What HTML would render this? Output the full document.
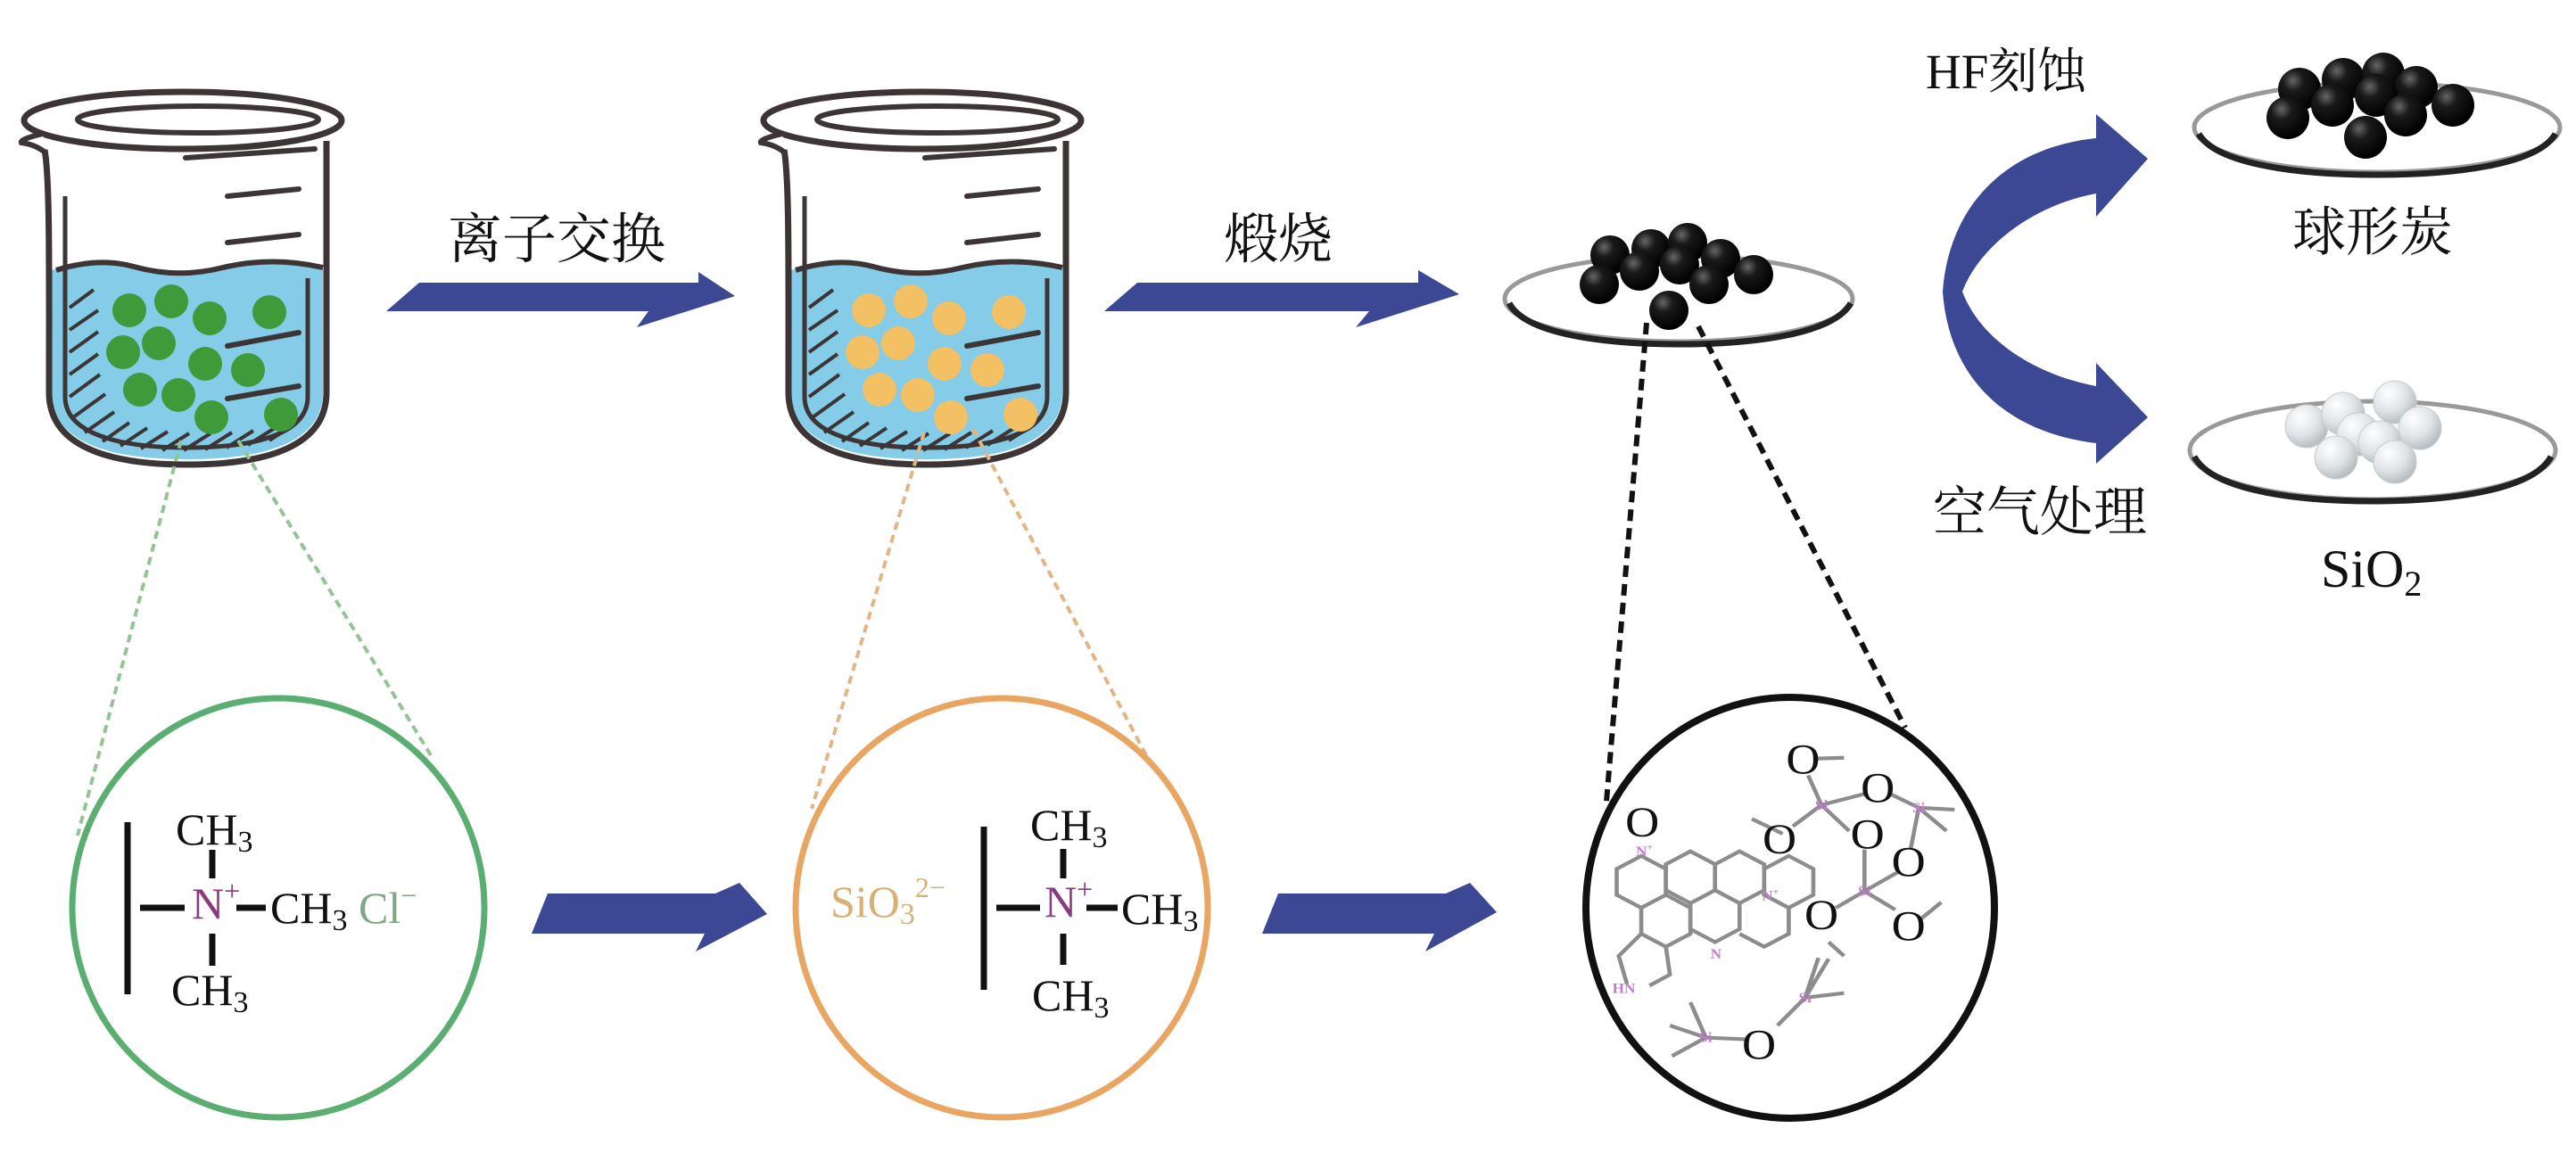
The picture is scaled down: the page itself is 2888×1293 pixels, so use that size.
<!DOCTYPE html>
<html><head><meta charset="utf-8"><style>
html,body{margin:0;padding:0;background:#fff;}
svg{display:block;}
.cn{font-family:"Liberation Serif","Noto Serif CJK SC",serif;fill:#111;}
.sf{font-family:"Liberation Serif",serif;}
</style></head><body>
<svg width="2888" height="1293" viewBox="0 0 2888 1293" xmlns="http://www.w3.org/2000/svg">
<defs>
<radialGradient id="bk" cx="0.35" cy="0.3" r="0.7"><stop offset="0" stop-color="#666"/><stop offset="0.35" stop-color="#1a1a1a"/><stop offset="1" stop-color="#000"/></radialGradient>
<radialGradient id="sv" cx="0.35" cy="0.3" r="0.7"><stop offset="0" stop-color="#ffffff"/><stop offset="0.6" stop-color="#dfe3e6"/><stop offset="1" stop-color="#b8bec2"/></radialGradient>
<clipPath id="liq"><path d="M58,303 Q110,288 150,299 Q200,313 250,300 Q305,287 362,300 L362,440 C362,495 300,515 210,515 C120,515 58,495 58,440 Z"/></clipPath>
<g id="beaker">
  <path d="M58,303 Q110,288 150,299 Q200,313 250,300 Q305,287 362,300 L362,440 C362,495 300,515 210,515 C120,515 58,495 58,440 Z" fill="#84cce8"/>
  <g clip-path="url(#liq)" stroke="#3d3535" stroke-width="4" fill="none">
    <path d="M78,345 L105,325 M78,370 L110,348 M78,395 L110,372 M78,420 L110,397 M78,445 L112,420 M82,468 L118,442 M95,485 L128,462 M115,495 L145,474 M135,500 L165,480 M158,503 L188,484 M182,505 L212,486 M206,505 L236,486 M230,504 L260,485 M254,502 L284,483 M278,499 L308,480 M302,494 L330,476"/>
  </g>
  <path d="M63,303 Q110,288 150,299 Q200,313 250,300 Q305,287 362,300" fill="none" stroke="#3d3535" stroke-width="6"/>
  <path d="M50,168 C56,200 55,300 55,440 C55,500 120,521 210,521 C300,521 366,500 366,440 L366,158" fill="none" stroke="#3d3535" stroke-width="7"/>
  <path d="M73,220 L73,445 C73,485 130,502 210,502 C290,502 345,485 345,445 L345,312" fill="none" stroke="#3d3535" stroke-width="5"/>
  <ellipse cx="205" cy="135" rx="178" ry="32" fill="#fff" stroke="#3d3535" stroke-width="7"/>
  <path d="M48,150 Q22,156 24,160 Q40,162 52,172" fill="#fff" stroke="#3d3535" stroke-width="6"/>
  <ellipse cx="222" cy="134" rx="135" ry="15" fill="none" stroke="#3d3535" stroke-width="6"/>
  <g stroke="#3d3535" stroke-width="6" stroke-linecap="round">
    <line x1="208" y1="177" x2="353" y2="167"/>
    <line x1="255" y1="220" x2="335" y2="212"/>
    <line x1="255" y1="272" x2="335" y2="263"/>
    <line x1="255" y1="388" x2="335" y2="373"/>
    <line x1="255" y1="447" x2="335" y2="433"/>
  </g>
</g>
</defs>

<use href="#beaker"/>
<g fill="#3f9a3a">
<circle cx="145" cy="348" r="19"/><circle cx="192" cy="338" r="19"/><circle cx="235" cy="357" r="19"/><circle cx="302" cy="350" r="19"/>
<circle cx="138" cy="395" r="19"/><circle cx="178" cy="385" r="19"/><circle cx="230" cy="408" r="19"/><circle cx="278" cy="415" r="19"/>
<circle cx="157" cy="437" r="19"/><circle cx="200" cy="443" r="19"/><circle cx="237" cy="468" r="19"/><circle cx="315" cy="465" r="19"/>
</g>
<use href="#beaker" transform="translate(829,0)"/>
<g fill="#f3c064" transform="translate(829,0)">
<circle cx="145" cy="348" r="19"/><circle cx="192" cy="338" r="19"/><circle cx="235" cy="357" r="19"/><circle cx="302" cy="350" r="19"/>
<circle cx="138" cy="395" r="19"/><circle cx="178" cy="385" r="19"/><circle cx="230" cy="408" r="19"/><circle cx="278" cy="415" r="19"/>
<circle cx="157" cy="437" r="19"/><circle cx="200" cy="443" r="19"/><circle cx="237" cy="468" r="19"/><circle cx="315" cy="465" r="19"/>
</g>

<g fill="#3d4894">
<path d="M433,349 L470,317 L783,317 L783,305 L824,332 L714,367 L727,349 Z"/>
<path d="M1238,349 L1275,317 L1590,317 L1590,303 L1636,330 L1520,367 L1535,349 Z"/>
<path d="M596,1047 L614,1002 L802,1002 L829,990 L860,1025 L780,1067 L790,1047 Z"/>
<path d="M1415,1047 L1433,1002 L1621,1002 L1648,990 L1678,1023 L1598,1067 L1608,1047 Z"/>
<path d="M2350,155 C2250,165 2185,230 2178,327 C2185,425 2250,485 2350,497 L2350,520 L2408,468 L2350,407 L2350,433 C2280,420 2220,380 2200,327 C2220,275 2280,230 2350,217 L2350,243 L2408,178 L2350,128 Z"/>
</g>

<text class="cn" x="502" y="289" font-size="61">离子交换</text>
<text class="cn" x="1372" y="289" font-size="61">煅烧</text>
<text class="cn" x="2159" y="99" font-size="55">HF刻蚀</text>
<text class="cn" x="2570" y="281" font-size="60">球形炭</text>
<text class="cn" x="2167" y="595" font-size="60">空气处理</text>
<text class="sf" x="2602" y="658" font-size="60" fill="#111">SiO<tspan font-size="40" dy="10">2</tspan></text>

<g>
<ellipse cx="1882" cy="335" rx="195" ry="48" fill="#fff" stroke="#999" stroke-width="5"/>
<path d="M1692,340 C1710,375 1800,386 1882,386 C1965,386 2055,375 2075,340" fill="none" stroke="#222" stroke-width="7"/>
<g fill="url(#bk)">
<circle cx="1805" cy="286" r="22"/><circle cx="1851" cy="279" r="22"/><circle cx="1892" cy="272" r="22"/><circle cx="1929" cy="290" r="22"/><circle cx="1966" cy="308" r="22"/>
<circle cx="1793" cy="319" r="22"/><circle cx="1838" cy="304" r="22"/><circle cx="1883" cy="297" r="22"/><circle cx="1916" cy="319" r="22"/><circle cx="1871" cy="348" r="22"/>
</g>
<ellipse cx="2665" cy="143" rx="205" ry="50" fill="#fff" stroke="#999" stroke-width="5"/>
<path d="M2465,150 C2485,185 2580,196 2665,196 C2750,196 2845,185 2865,150" fill="none" stroke="#222" stroke-width="7"/>
<g fill="url(#bk)">
<circle cx="2578" cy="100" r="24"/><circle cx="2627" cy="89" r="24"/><circle cx="2672" cy="83" r="24"/><circle cx="2709" cy="98" r="24"/><circle cx="2750" cy="118" r="24"/>
<circle cx="2565" cy="132" r="24"/><circle cx="2615" cy="118" r="24"/><circle cx="2664" cy="107" r="24"/><circle cx="2697" cy="129" r="24"/><circle cx="2652" cy="154" r="24"/>
</g>
<ellipse cx="2660" cy="505" rx="205" ry="55" fill="#fff" stroke="#999" stroke-width="5"/>
<path d="M2460,512 C2480,550 2575,562 2660,562 C2745,562 2840,550 2860,512" fill="none" stroke="#222" stroke-width="7"/>
<g fill="url(#sv)" stroke="#c8cdd0" stroke-width="1">
<circle cx="2586" cy="478" r="24"/><circle cx="2627" cy="464" r="24"/><circle cx="2685" cy="451" r="24"/><circle cx="2713" cy="480" r="24"/>
<circle cx="2644" cy="487" r="24"/><circle cx="2668" cy="496" r="24"/><circle cx="2619" cy="513" r="24"/><circle cx="2685" cy="518" r="24"/>
</g>
</g>

<g fill="none" stroke-width="4">
<line x1="203" y1="494" x2="87" y2="937" stroke="#94c394" stroke-dasharray="9,6"/>
<line x1="267" y1="494" x2="483" y2="847" stroke="#94c394" stroke-dasharray="9,6"/>
<line x1="1036" y1="485" x2="910" y2="907" stroke="#e2b585" stroke-dasharray="9,6"/>
<line x1="1091" y1="481" x2="1285" y2="847" stroke="#e2b585" stroke-dasharray="9,6"/>
<line x1="1846" y1="362" x2="1801" y2="899" stroke="#111" stroke-width="6" stroke-dasharray="13,8"/>
<line x1="1904" y1="366" x2="2136" y2="816" stroke="#111" stroke-width="6" stroke-dasharray="13,8"/>
</g>

<!-- green circle -->
<ellipse cx="312" cy="1018" rx="231" ry="235" fill="#fff" stroke="#5aae72" stroke-width="7"/>
<g stroke="#111" stroke-width="7">
<line x1="143" y1="922" x2="143" y2="1115"/>
<line x1="157" y1="1018" x2="207" y2="1018"/>
<line x1="238" y1="953" x2="238" y2="985"/>
<line x1="238" y1="1047" x2="238" y2="1083"/>
<line x1="265" y1="1018" x2="298" y2="1018"/>
</g>
<g class="sf" font-size="50" fill="#111">
<text x="197" y="947">CH<tspan font-size="34" dy="8">3</tspan></text>
<text x="192" y="1127">CH<tspan font-size="34" dy="8">3</tspan></text>
<text x="303" y="1035">CH<tspan font-size="34" dy="8">3</tspan></text>
<text x="215" y="1030" fill="#8a3a7e">N<tspan font-size="32" dy="-20">+</tspan></text>
<text x="402" y="1035" fill="#7fa882">Cl<tspan font-size="32" dy="-20">−</tspan></text>
</g>

<!-- orange circle -->
<ellipse cx="1123" cy="1018" rx="231" ry="235" fill="#fff" stroke="#e9a662" stroke-width="7"/>
<g stroke="#111" stroke-width="7">
<line x1="1103" y1="927" x2="1103" y2="1110"/>
<line x1="1117" y1="1018" x2="1166" y2="1018"/>
<line x1="1192" y1="952" x2="1192" y2="985"/>
<line x1="1192" y1="1047" x2="1192" y2="1082"/>
<line x1="1218" y1="1018" x2="1253" y2="1018"/>
</g>
<g class="sf" font-size="50" fill="#111">
<text x="1155" y="942">CH<tspan font-size="34" dy="8">3</tspan></text>
<text x="1157" y="1133">CH<tspan font-size="34" dy="8">3</tspan></text>
<text x="1257" y="1036">CH<tspan font-size="34" dy="8">3</tspan></text>
<text x="1171" y="1028" fill="#8a3a7e">N<tspan font-size="32" dy="-20">+</tspan></text>
<text x="931" y="1028" fill="#d9b073">SiO<tspan font-size="34" dy="8">3</tspan><tspan font-size="32" dy="-30">2−</tspan></text>
</g>

<!-- black circle -->
<ellipse cx="2007" cy="1018" rx="229" ry="236" fill="#fff" stroke="#111" stroke-width="8"/>
<g transform="translate(1700,750) scale(1.148,1.039) translate(-1700,-750)">
<g fill="none" stroke="#8c8c8c" stroke-width="4">
<path d="M1822,952 L1846,966 L1846,994 L1822,1008 L1798,994 L1798,966 Z"/>
<path d="M1870,947 L1894,961 L1894,989 L1870,1003 L1846,989 L1846,961 Z"/>
<path d="M1918,947 L1942,961 L1942,989 L1918,1003 L1894,989 L1894,961 Z"/>
<path d="M1966,952 L1990,966 L1990,994 L1966,1008 L1942,994 L1942,966 Z"/>
<path d="M1846,994 L1870,1008 L1870,1036 L1846,1050 L1822,1036 L1822,1008"/>
<path d="M1894,989 L1918,1003 L1918,1031 L1894,1045 L1870,1031 L1870,1003"/>
<path d="M1942,994 L1966,1008 L1966,1036 L1942,1050 L1918,1036"/>
<path d="M1822,1036 L1800,1060 L1808,1090 M1846,1050 L1850,1080 L1830,1092"/>
<path d="M1998,897 L1985,865 M1998,897 L2040,885 M1998,897 L2025,925 M1998,897 L1970,920 M1960,928 L1930,912 M1990,847 L2020,846"/>
<path d="M2093,900 L2065,885 M2093,900 L2128,902 M2093,900 L2120,925 M2093,900 L2085,945"/>
<path d="M2040,990 L2040,945 M2040,990 L2075,968 M2040,990 L2012,1008 M2040,990 L2070,1010 M2095,1020 L2115,1002"/>
<path d="M1982,1105 L2020,1100 M1982,1105 L2005,1063 M1982,1105 L1995,1062 M1982,1105 L1955,1135 M2005,1045 L2020,1060"/>
<path d="M1885,1148 L1925,1150 M1885,1148 L1850,1135 M1885,1148 L1852,1168 M1885,1148 L1870,1110"/>
</g>
<g class="sf" font-size="15" font-weight="bold" fill="#c47ad0" text-anchor="middle">
<text x="1998" y="902">Si</text><text x="2093" y="905">Si</text><text x="2040" y="995">Si</text><text x="1982" y="1110">Si</text><text x="1885" y="1153">Si</text>
<text x="1825" y="952">N<tspan font-size="10" dy="-6">+</tspan></text><text x="1948" y="1000">N<tspan font-size="10" dy="-6">+</tspan></text><text x="1895" y="1063">N</text><text x="1805" y="1100">HN</text>
</g>
<g class="sf" font-size="46" fill="#111" text-anchor="middle">
<text x="1823" y="931">O</text><text x="1980" y="863">O</text><text x="2053" y="894">O</text><text x="2043" y="944">O</text><text x="1957" y="949">O</text>
<text x="2083" y="974">O</text><text x="1998" y="1031">O</text><text x="2083" y="1043">O</text><text x="1937" y="1171">O</text>
</g>
</g>
</svg>
</body></html>
